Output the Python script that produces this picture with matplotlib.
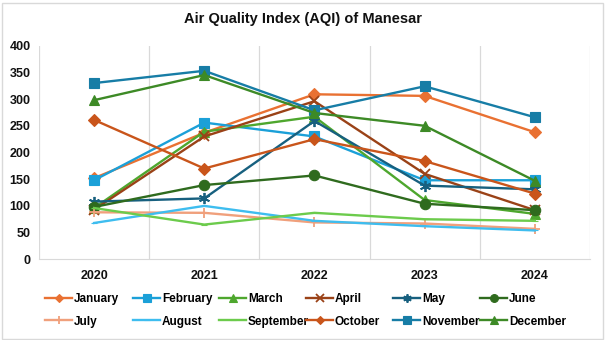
import matplotlib
matplotlib.use("Agg")
import matplotlib.pyplot as plt
from matplotlib.patches import Rectangle
from matplotlib import font_manager

years = ["2020", "2021", "2022", "2023", "2024"]
months = ["January", "February", "March", "April", "May", "June",
          "July", "August", "September", "October", "November", "December"]

january = [152, 237, 309, 306, 238]
february = [148, 256, 230, 148, 148]
march = [96, 239, 267, 111, 85]
april = [93, 230, 296, 160, 92]
may = [108, 114, 259, 138, 131]
june = [98, 139, 157, 104, 92]
july = [88, 87, 69, 67, 57]
august = [68, 100, 72, 62, 54]
september = [96, 65, 87, 75, 72]
october = [261, 170, 225, 184, 123]
november = [330, 353, 279, 324, 266]
december = [298, 345, 274, 250, 147]

series = [january, february, march, april, may, june,
          july, august, september, october, november, december]

colors = ["#E97132", "#1BA0D8", "#4EA72E", "#9A4217", "#17607F", "#2F6B1E",
          "#F0A07C", "#3EBDEF", "#6CCB4C", "#C9551B", "#177DA6", "#3D8A26"]
markers = ["D", "s", "^", "x", (6, 2, 0), "o", "+", "_", "_", "D", "s", "^"]
msizes = [6, 7.5, 7.5, 7, 8, 7.5, 7, 5, 5, 6, 7.5, 7.5]

names = {f.name for f in font_manager.fontManager.ttflist}
if "Liberation Sans Narrow" in names:
    fam = ["Liberation Sans Narrow", "DejaVu Sans"]
else:
    fam = ["Liberation Sans", "DejaVu Sans"]
plt.rcParams["font.family"] = fam

fig = plt.figure(figsize=(6.05, 3.4), dpi=100)
fig.patches.append(Rectangle((0.003, 0.003), 0.994, 0.988, transform=fig.transFigure,
                             fill=False, edgecolor="#D9D9D9", linewidth=1))
ax = fig.add_axes([0.0645, 0.2374, 0.9105, 0.6282])

x = list(range(len(years)))
handles = []
for s, name, c, m, ms in zip(series, months, colors, markers, msizes):
    thin = isinstance(m, tuple) or m in ("x", "+")
    h, = ax.plot(x, s, color=c, linewidth=1.7, marker=m, markersize=ms,
                 markeredgewidth=1.3 if thin else 0.8,
                 markeredgecolor=c, markerfacecolor=c, label=name)
    handles.append(h)

ax.set_xlim(-0.5, 4.5)
ax.set_ylim(0, 400)
ax.set_yticks(range(0, 401, 50))
ax.set_xticks(x)
ax.set_xticklabels(years)
for b in [i - 0.5 for i in range(6)]:
    ax.axvline(b, color="#D9D9D9", linewidth=0.9, zorder=0)
for sp in ["top", "right", "left"]:
    ax.spines[sp].set_visible(False)
ax.spines["bottom"].set_color("#D9D9D9")
ax.tick_params(axis="both", length=0, labelsize=9, colors="#111111", pad=6)
for lab in ax.get_xticklabels() + ax.get_yticklabels():
    lab.set_fontweight("bold")
ax.tick_params(axis="x", pad=8)

fig.text(0.5, 0.943, "Air Quality Index (AQI) of Manesar", ha="center", va="center",
         fontsize=10.5, fontweight="bold", color="#111111")

# legend: six columns at fixed positions, two rows each
col_x = [45, 133, 219, 306, 393, 480]
for i, cx in enumerate(col_x):
    fig.legend(handles=[handles[i], handles[i + 6]], loc="upper left",
               bbox_to_anchor=(cx / 605, 1 - 293 / 340), frameon=False,
               prop={"weight": "bold", "size": 8.5}, handlelength=2.3,
               handletextpad=0.15, labelspacing=0.9, borderpad=0,
               borderaxespad=0, markerscale=0.75)

fig.savefig("out.png", dpi=100)
